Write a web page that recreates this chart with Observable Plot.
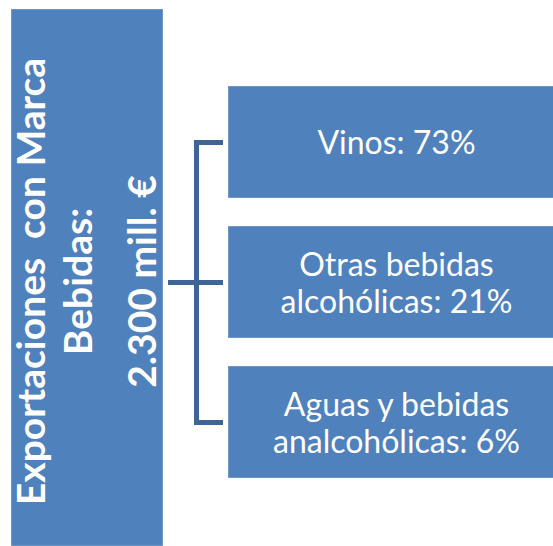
<!DOCTYPE html>
<html>
<head>
<meta charset="utf-8">
<script src="https://cdn.jsdelivr.net/npm/d3@7"></script>
<script src="https://cdn.jsdelivr.net/npm/@observablehq/plot@0.6"></script>
<style>
  html, body { margin: 0; padding: 0; background: #fff; overflow: hidden; }
  svg { display: block; }
</style>
</head>
<body>
<div id="chart"></div>
<script>
// ---- Data ----
const categories = ["Vinos", "Otras bebidas\nalcohólicas", "Aguas y bebidas\nanalcohólicas"];
const shares = [73, 21, 6];
const titleLines = ["Exportaciones  con Marca", "Bebidas:", "2.300 mill. €"];

const rows = categories.map((c, i) => ({name: c, share: shares[i]}));

// ---- Layout / style ----
const BOX = "#4F81BD";
const LINE = "#3F6597";
const FONT = "Lato, 'Open Sans', sans-serif";
const titleX = [44, 91, 155];

const chart = Plot.plot({
  width: 553,
  height: 546,
  marginTop: 9,
  marginBottom: 0,
  marginLeft: 0,
  marginRight: 0,
  style: {background: "#fff", overflow: "hidden"},
  x: {domain: [0, 553], range: [0, 553], axis: null},
  y: {type: "band", domain: categories, range: [85, 478], paddingInner: 0.203, paddingOuter: 0, axis: null},
  marks: [
    // Left summary box (spans the frame height)
    Plot.barX([titleLines.length], {x1: 11, x2: 163, fill: BOX, stroke: "#fff", strokeOpacity: 0.35}),
    // Left rotated text lines
    ...titleLines.map((t, i) =>
      Plot.text([t], {
        x: titleX[i], text: d => d, rotate: -90, lineAnchor: "bottom",
        fontSize: 39, fontWeight: "bold", fill: "#fff", fontFamily: FONT, dy: 3.5
      })
    ),
    // Bracket
    Plot.line(rows, {x: 196, y: "name", stroke: LINE, strokeWidth: 5, strokeLinecap: "square"}),
    Plot.ruleY(rows.filter((d, i) => i !== 1), {y: "name", x1: 194, x2: 223, stroke: LINE, strokeWidth: 5}),
    Plot.ruleY(rows.filter((d, i) => i === 1), {y: "name", x1: 168, x2: 223, stroke: LINE, strokeWidth: 5}),
    // Right boxes
    Plot.barX(rows, {y: "name", x1: 228, x2: 564, fill: BOX, stroke: "#fff", strokeOpacity: 0.35}),
    Plot.text(rows, {
      y: "name", x: 396, text: d => `${d.name}: ${d.share}%`,
      fontSize: 32, fill: "#fff", fontFamily: FONT, lineHeight: 1.16
    })
  ]
});
document.getElementById("chart").appendChild(chart);
</script>
</body>
</html>
